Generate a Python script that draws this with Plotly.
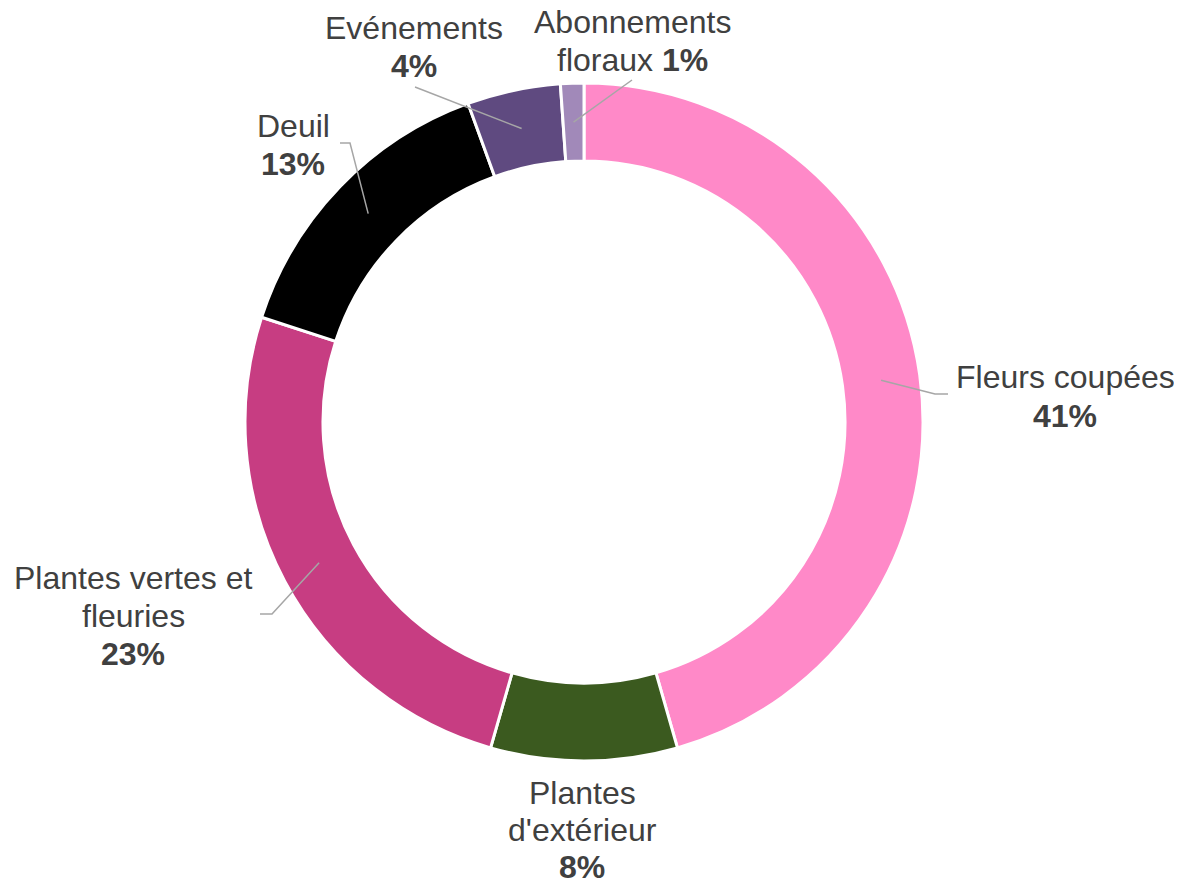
import math
import plotly.graph_objects as go

# page body has an 8px margin, so the figure is a little smaller than the window
OFF = 8
W, H = 1182 - 2 * OFF, 883 - OFF

labels = ["Fleurs coupées", "Plantes d'extérieur", "Plantes vertes et fleuries",
          "Deuil", "Evénements", "Abonnements floraux"]
values = [41, 8, 23, 13, 4, 1]
colors = ["#FF89C8", "#3B5A1F", "#C73D82", "#000000", "#5F4A80", "#A189B9"]

# label lines as shown, with their centre x and the y of each line (window pixels)
label_lines = [
    ["Fleurs coupées", "<b>41%</b>"],
    ["Plantes", "d'extérieur", "<b>8%</b>"],
    ["Plantes vertes et", "fleuries", "<b>23%</b>"],
    ["Deuil", "<b>13%</b>"],
    ["Evénements", "<b>4%</b>"],
    ["Abonnements", "floraux <b>1%</b>"],
]
label_x = [1065, 582, 133, 293, 414, 632]
label_y = [[377, 416], [793, 830, 867], [578, 616, 654], [126, 164], [28, 66], [22, 60]]
leader_pts = [
    [(935, 394), (948, 394)],
    None,
    [(272, 614), (260, 614)],
    [(350, 143), (340, 143)],
    [(415, 87)],
    [(632, 80)],
]

CX, CY, R = 584, 422, 339
HOLE = 0.77


def px(x, y):
    return (x - OFF) / W, 1 - (y - OFF) / H


fig = go.Figure(go.Pie(
    labels=labels,
    values=values,
    sort=False,
    direction="clockwise",
    rotation=0,
    hole=HOLE,
    textinfo="none",
    hoverinfo="label+value",
    marker=dict(colors=colors, line=dict(color="white", width=3)),
    domain=dict(x=[px(CX - R, 0)[0], px(CX + R, 0)[0]],
                y=[px(0, CY + R)[1], px(0, CY - R)[1]]),
    showlegend=False,
))

total = sum(values)
cum = 0
for i, v in enumerate(values):
    mid = (cum + v / 2) / total * 2 * math.pi
    cum += v
    for line, ly in zip(label_lines[i], label_y[i]):
        ax, ay = px(label_x[i], ly)
        fig.add_annotation(
            x=ax, y=ay, xref="paper", yref="paper",
            text=line, showarrow=False, align="center",
            xanchor="center", yanchor="middle",
            font=dict(family="Liberation Sans, Arial", size=32, color="#404040"),
        )
    if leader_pts[i] is None:
        continue
    r0 = R * (1 + HOLE) / 2
    pts = [(CX + r0 * math.sin(mid), CY - r0 * math.cos(mid))] + leader_pts[i]
    path = "M " + " L ".join(f"{px(x, y)[0]} {px(x, y)[1]}" for x, y in pts)
    fig.add_shape(type="path", path=path, xref="paper", yref="paper",
                  line=dict(color="#A6A6A6", width=1.5))

fig.update_layout(
    width=W, height=H,
    margin=dict(l=0, r=0, t=0, b=0),
    paper_bgcolor="white", plot_bgcolor="white",
)

fig.write_html("out.html")
